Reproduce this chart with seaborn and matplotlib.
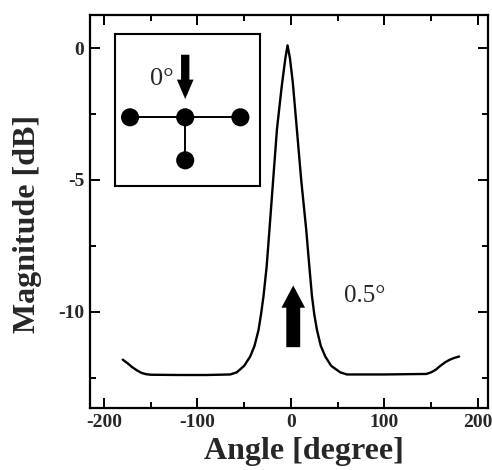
import matplotlib
matplotlib.use("Agg")
import matplotlib.pyplot as plt
from matplotlib.patches import FancyArrowPatch
from matplotlib.ticker import MultipleLocator
import seaborn as sns
import pandas as pd

# beam pattern
angle = [-180, -175, -170, -165, -160, -155, -150, -120, -90, -65, -58, -50,
         -43.6, -39, -34.7, -32, -29.3, -26, -23, -19, -15, -10, -6, -3.6,
         -1, 2, 6.4, 11, 16.4, 19.5, 22.5, 25, 27.9, 32, 36.8, 43, 52.8, 60,
         100, 145, 150, 155, 160, 165, 170, 175, 180]
magnitude = [-11.82, -11.95, -12.1, -12.22, -12.32, -12.37, -12.39, -12.4, -12.4,
             -12.38, -12.3, -12.05, -11.7, -11.3, -10.7, -10.1, -9.4, -8.3, -6.9,
             -5.0, -3.1, -1.5, -0.4, 0.1, -0.4, -1.3, -3.1, -5.0, -6.9, -8.2,
             -9.4, -10.1, -10.7, -11.3, -11.7, -12.05, -12.3, -12.38, -12.38,
             -12.36, -12.3, -12.2, -12.05, -11.92, -11.82, -11.75, -11.7]

x_ticks = [-200, -100, 0, 100, 200]
y_ticks = [0, -5, -10]

# steering annotation
steer_angle = 2.5
steer_from, steer_to = -11.45, -8.9
steer_label = "0.5°"

# array layout for the inset (grid units)
node_x = [-1, 0, 1, 0]
node_y = [0, 0, 0, -1]
inset_label = "0°"

df = pd.DataFrame({"Angle": angle, "Magnitude": magnitude})

sns.set_theme(style="ticks")
plt.rcParams["font.family"] = ["Liberation Serif", "DejaVu Serif"]
plt.rcParams["axes.unicode_minus"] = False

fig = plt.figure(figsize=(4.92, 4.70), dpi=100)
ax = fig.add_axes([0.183, 0.132, 0.809, 0.836])

sns.lineplot(data=df, x="Angle", y="Magnitude", color="black", lw=1.7, ax=ax)

ax.set_xlim(-215, 211)
ax.set_ylim(-13.65, 1.25)
ax.set_xticks(x_ticks)
ax.set_yticks(y_ticks)
ax.xaxis.set_minor_locator(MultipleLocator(50))
ax.yaxis.set_minor_locator(MultipleLocator(2.5))
ax.tick_params(which="both", direction="in", top=True, right=True,
               color="black", width=1.4)
ax.tick_params(which="major", length=7, labelsize=14, pad=4)
ax.tick_params(which="minor", length=4)
for lab in ax.get_xticklabels() + ax.get_yticklabels():
    lab.set_fontweight("bold")
for sp in ax.spines.values():
    sp.set_linewidth(1.6)
    sp.set_color("black")

ax.set_xlabel("Angle [degree]", fontsize=23, fontweight="bold")
ax.set_ylabel("Magnitude [dB]", fontsize=23, fontweight="bold")
ax.xaxis.set_label_coords(0.538, -0.074)
ax.yaxis.set_label_coords(-0.12, 0.469)

ax.add_patch(FancyArrowPatch((steer_angle, steer_from), (steer_angle, steer_to),
                             arrowstyle="simple,head_length=16,head_width=17,tail_width=10",
                             mutation_scale=1, color="black", lw=0))
ax.text(79, -9.4, steer_label, fontsize=18, ha="center", va="center")

# inset with the array geometry
ins = fig.add_axes([0.234, 0.604, 0.295, 0.323])
ins.set_xlim(-1.27, 1.36)
ins.set_ylim(-1.6, 1.93)
ins.set_xticks([])
ins.set_yticks([])
for sp in ins.spines.values():
    sp.set_linewidth(1.5)
    sp.set_color("black")
ins.plot([node_x[0], node_x[2]], [node_y[0], node_y[2]], color="black", lw=1.4)
ins.plot([node_x[1], node_x[3]], [node_y[1], node_y[3]], color="black", lw=1.4)
sns.scatterplot(x=node_x, y=node_y, color="black", s=170, edgecolor="none",
                ax=ins, zorder=3)
ins.add_patch(FancyArrowPatch((0, 1.52), (0, 0.36),
                              arrowstyle="simple,head_length=14,head_width=12,tail_width=6",
                              mutation_scale=1, color="black", lw=0))
ins.text(-0.42, 0.9, inset_label, fontsize=19, ha="center", va="center")

fig.savefig("out.png", dpi=100)
